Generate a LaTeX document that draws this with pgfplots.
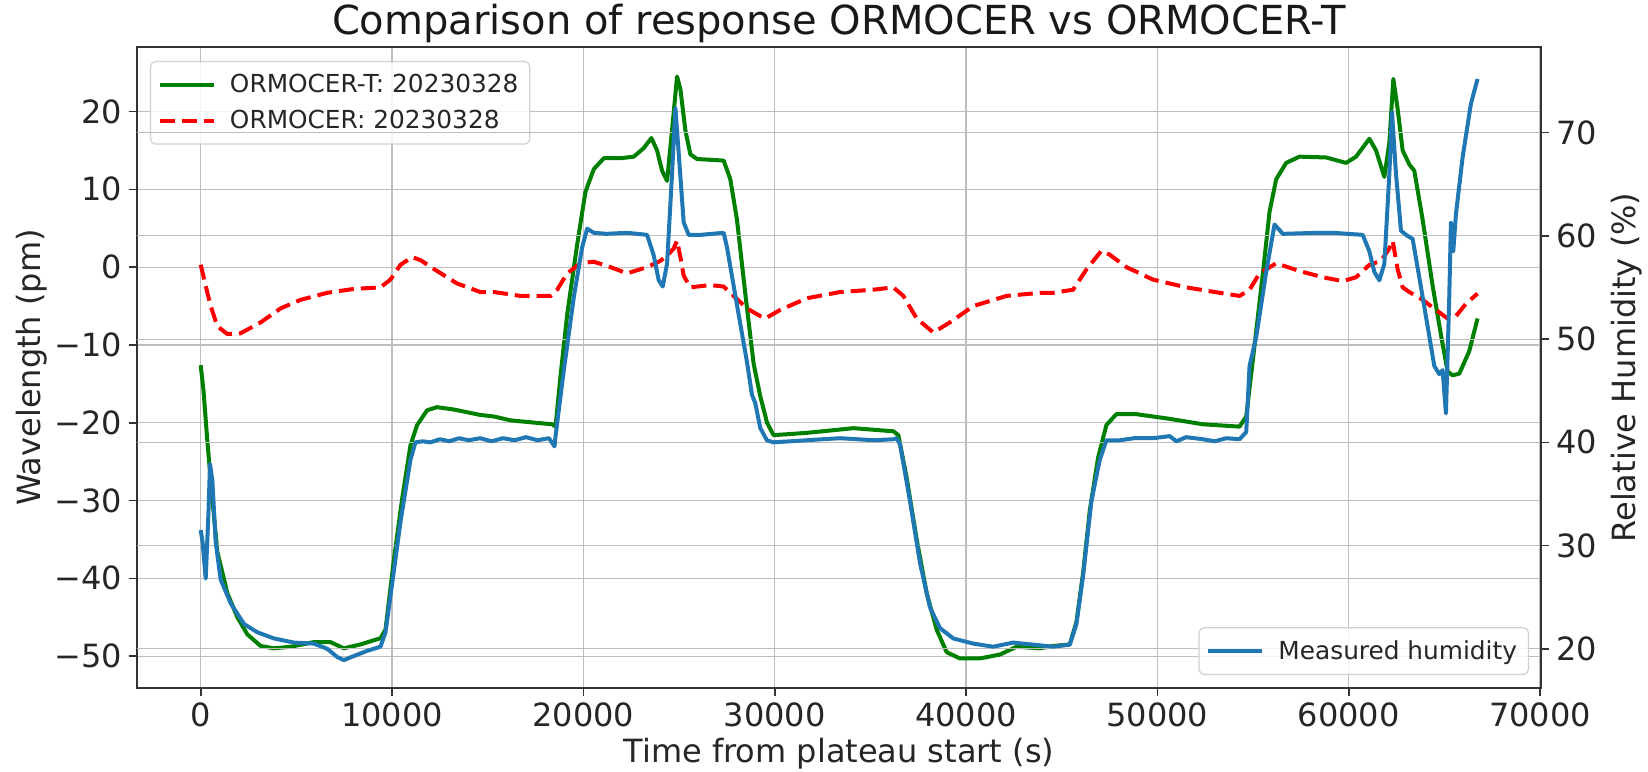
\documentclass[border=0pt]{standalone}
\usepackage{pgfplots}
\pgfplotsset{compat=1.18}
\usepackage{fontspec}
\setmainfont{DejaVu Sans}
\definecolor{mplgreen}{HTML}{008000}
\definecolor{mplred}{HTML}{FF0000}
\definecolor{mplblue}{HTML}{1F77B4}
\definecolor{gridgray}{HTML}{BEBEBE}
\definecolor{legframe}{HTML}{D0D0D0}
\definecolor{spine}{HTML}{333333}
\pgfplotsset{
  common/.style={
    at={(0pt,0pt)}, anchor=south west,
    width=702pt, height=320.5pt, scale only axis,
    xmin=-3330, xmax=70050,
    scaled x ticks=false, scaled y ticks=false,
    xtick={0,10000,20000,30000,40000,50000,60000,70000},
    xticklabels={0,10000,20000,30000,40000,50000,60000,70000},
    tick align=outside, major tick length=4pt,
    axis line style={line width=0.8pt, color=spine},
    tick style={line width=0.8pt, color=spine},
    tick label style={font=\fontsize{16}{19}\selectfont, text=black!85},
    label style={font=\fontsize{16}{19}\selectfont, text=black!85},
    grid style={color=gridgray, line width=0.6pt},
    /pgf/number format/assume math mode=true,
    legend cell align=left,
    legend image code/.code={\draw[#1] (0pt,0pt) -- (27pt,0pt);},
    legend style={font=\fontsize{12.4}{14}\selectfont, text=black!85,
      draw=legframe, line width=0.6pt, rounded corners=2.5pt,
      fill=white, fill opacity=0.8, text opacity=1, draw opacity=1,
      inner xsep=3.5pt, inner ysep=4pt, row sep=3pt,
      nodes={inner sep=2.2pt},
      /tikz/every odd column/.append style={column sep=5pt}},
  }
}
\begin{document}
\begin{tikzpicture}
\useasboundingbox (-68.5pt,-41.5pt) rectangle (755.5pt,344pt);
\begin{axis}[common,
  ymin=-54.1, ymax=28.3,
  ytick={-50,-40,-30,-20,-10,0,10,20},
  yticklabels={−50,−40,−30,−20,−10,0,10,20},
  xtick pos=bottom, ytick pos=left,
  xmajorgrids=true, ymajorgrids=true,
  xlabel={Time from plateau start (s)},
  ylabel={Wavelength (pm)},
  xlabel style={at={(axis description cs:0.5,-0.103)}, anchor=center},
  ylabel style={at={(axis description cs:-0.0748,0.5)}, anchor=center},
  title={Comparison of response ORMOCER vs ORMOCER-T},
  title style={font=\fontsize{20}{24}\selectfont, text=black!90, at={(axis description cs:0.5,1.0187)}, anchor=center},
  legend style={at={(axis description cs:0,1)}, anchor=north west, xshift=6.5pt, yshift=-7pt},
]
\addplot[color=mplgreen, line width=2pt, line join=round] coordinates {
(0,-12.6) (150,-16) (348,-22.4) (609,-29.8) (870,-36.6) (1392,-41.9) (1914,-45.0) (2436,-47.2) (3132,-48.7) (3828,-49.0) (4700,-48.8) (5916,-48.2) (6786,-48.2) (7480,-49.0) (8350,-48.5) (9396,-47.7) (9657,-46.6) (10092,-37.7) (10527,-29.8) (10962,-22.9) (11310,-20.3) (11832,-18.4) (12354,-18.0) (13224,-18.3) (14616,-19.0) (15325,-19.2) (16195,-19.7) (17065,-19.9) (18370,-20.2) (18544,-20.5) (18805,-14.0) (19153,-6.1) (19675,2.9) (20110,9.7) (20545,12.6) (21067,14.0) (21937,14.0) (22633,14.2) (23155,15.3) (23555,16.6) (23851,15.0) (24112,12.4) (24373,11.1) (24634,17.6) (24895,24.5) (25069,22.9) (25330,17.6) (25591,14.5) (25939,13.9) (27331,13.7) (27679,11.3) (28027,6.1) (28462,-3.4) (28897,-12.4) (29245,-16.6) (29600,-20.0) (29938,-21.6) (31678,-21.3) (34114,-20.7) (36202,-21.1) (36463,-21.6) (36898,-27.1) (37420,-35.0) (37942,-41.9) (38464,-46.6) (38986,-49.5) (39682,-50.3) (40726,-50.3) (41770,-49.8) (42640,-48.8) (43858,-49.0) (44551,-48.7) (45421,-48.5) (45769,-45.6) (46117,-39.3) (46465,-31.3) (46900,-24.5) (47335,-20.3) (47857,-18.9) (48901,-18.9) (50641,-19.5) (52381,-20.2) (54295,-20.5) (54643,-19.2) (54991,-11.9) (55513,-0.8) (55861,7.1) (56209,11.3) (56731,13.4) (57425,14.2) (58817,14.1) (59861,13.4) (60383,14.2) (61079,16.5) (61427,15.0) (61862,11.6) (62123,16.0) (62332,24.2) (62558,20.3) (62819,15.0) (63167,13.2) (63428,12.4) (63863,6.1) (64385,-2.4) (64820,-8.7) (65168,-13.4) (65429,-13.9) (65777,-13.7) (66299,-10.8) (66734,-6.6)
};
\addlegendentry{ORMOCER-T: 20230328}
\addplot[color=mplred, line width=2pt, dash pattern=on 7.5pt off 3.5pt] coordinates {
(0,0.3) (261,-2.4) (522,-5.0) (870,-7.6) (1392,-8.6) (2088,-8.5) (3132,-7.1) (4176,-5.3) (5220,-4.2) (6612,-3.3) (8004,-2.8) (9396,-2.6) (9918,-1.6) (10440,0.3) (11049,1.3) (11484,0.9) (12354,-0.5) (13398,-2.1) (14616,-3.2) (15325,-3.2) (16717,-3.7) (18283,-3.7) (18631,-2.9) (19153,-0.8) (19849,0.5) (20545,0.7) (21415,0.0) (22285,-0.8) (23329,0.0) (24025,0.8) (24500,1.8) (24721,2.4) (24895,3.4) (25069,1.3) (25243,-1.1) (25591,-2.6) (26635,-2.3) (27331,-2.5) (27853,-3.7) (28549,-5.3) (29245,-6.3) (29503,-6.6) (30286,-5.5) (31678,-4.0) (33418,-3.2) (35158,-2.9) (36202,-2.6) (36724,-3.7) (37420,-6.6) (38290,-8.4) (39160,-7.1) (40378,-5.0) (42118,-3.7) (43858,-3.3) (44551,-3.3) (45595,-2.9) (46291,-0.3) (47074,2.1) (47509,1.6) (48379,0.0) (49771,-1.6) (51511,-2.6) (53251,-3.3) (54295,-3.7) (54817,-2.9) (55339,-0.8) (56209,0.5) (57425,-0.5) (58643,-1.3) (59687,-1.8) (60383,-1.3) (61079,0.3) (61688,0.8) (62123,2.4) (62297,3.4) (62558,-0.3) (62819,-2.6) (63167,-3.2) (63863,-4.2) (64559,-5.5) (65168,-6.6) (65603,-6.3) (66125,-4.7) (66734,-3.4)
};
\addlegendentry{ORMOCER: 20230328}
\end{axis}
\begin{axis}[common,
  ymin=16.2, ymax=78.3,
  axis x line=none, axis y line*=right,
  ytick={20,30,40,50,60,70},
  ymajorgrids=true,
  ylabel={Relative Humidity (\%)},
  ylabel style={at={(axis description cs:1.0613,0.5)}, anchor=center},
  legend style={at={(axis description cs:1,0)}, anchor=south east, xshift=-6pt, yshift=6.5pt},
]
\addplot[color=mplblue, line width=2pt, line join=round] coordinates {
(0,31.5) (100,30.3) (261,26.8) (400,33) (487,37.9) (609,36.3) (783,30.3) (1044,26.7) (1566,24.4) (2262,22.4) (2958,21.6) (3828,21.0) (4872,20.6) (5916,20.5) (6612,20.0) (7134,19.2) (7480,18.9) (8004,19.3) (8700,19.8) (9396,20.2) (9657,21.6) (10005,26.3) (10440,32.3) (10962,38.3) (11223,40.0) (11600,40.1) (12006,40.0) (12500,40.3) (13000,40.1) (13500,40.4) (14000,40.2) (14616,40.4) (15200,40.1) (15800,40.4) (16400,40.2) (17000,40.5) (17600,40.2) (18200,40.4) (18492,39.6) (18544,40.6) (18979,47.0) (19501,54.1) (19936,58.9) (20197,60.7) (20545,60.3) (21200,60.2) (22285,60.3) (23329,60.1) (23677,58.1) (23938,55.7) (24147,55.1) (24373,57.3) (24634,66.0) (24808,72.4) (24982,68.0) (25243,61.3) (25504,60.1) (26113,60.1) (27331,60.3) (27505,58.9) (28027,53.3) (28549,47.8) (28810,44.6) (28984,43.8) (29242,41.4) (29590,40.2) (29938,40.0) (30800,40.1) (31678,40.2) (32500,40.3) (33418,40.4) (34300,40.3) (35200,40.2) (36202,40.3) (36376,40.4) (36550,39.8) (37072,34.3) (37594,28.3) (38116,24.0) (38638,22.0) (39334,21.0) (40378,20.5) (41422,20.2) (42466,20.6) (43510,20.4) (44551,20.2) (45421,20.4) (45769,22.4) (46117,27.1) (46552,34.3) (46987,38.3) (47335,40.2) (48031,40.2) (48800,40.4) (49771,40.4) (50641,40.6) (51000,40.1) (51500,40.5) (52381,40.3) (53000,40.1) (53600,40.4) (54295,40.3) (54643,41.0) (54817,47.4) (55165,50.2) (55687,56.5) (56122,61.1) (56557,60.2) (58471,60.3) (59165,60.3) (60731,60.1) (61079,58.5) (61340,56.5) (61601,55.7) (61862,57.3) (62123,66.0) (62262,72.0) (62471,66.0) (62732,60.5) (62993,60.1) (63341,59.7) (63863,54.1) (64472,47.4) (64733,46.6) (64907,47.0) (65081,42.8) (65255,54.1) (65342,61.3) (65464,58.5) (65603,62.1) (65951,67.6) (66386,72.8) (66734,75.2)
};
\addlegendentry{Measured humidity}
\end{axis}
\end{tikzpicture}
\end{document}
